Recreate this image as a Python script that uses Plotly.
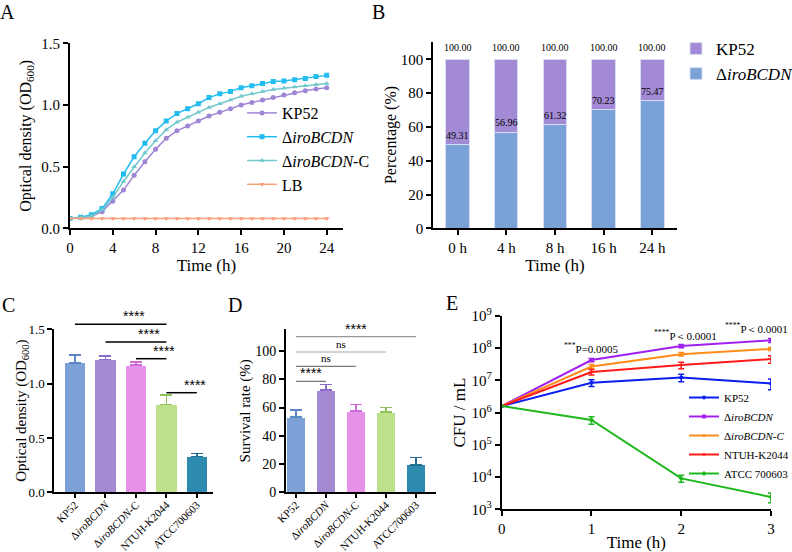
import math
import plotly.graph_objects as go

W, H = 792, 552
FONT = "Liberation Serif"
STAR_FONT = "Liberation Sans"

# ---------------- Data ----------------
# Panel A: growth curves (OD600)
a_time = list(range(25))
a_kp52 = [0.08, 0.085, 0.095, 0.135, 0.22, 0.31, 0.43, 0.54, 0.64, 0.73, 0.79, 0.83, 0.87,
          0.91, 0.94, 0.97, 1.00, 1.02, 1.04, 1.06, 1.08, 1.10, 1.115, 1.13, 1.14]
a_del = [0.08, 0.09, 0.11, 0.16, 0.28, 0.44, 0.58, 0.69, 0.79, 0.87, 0.93, 0.97, 1.01,
         1.06, 1.09, 1.11, 1.14, 1.155, 1.175, 1.19, 1.195, 1.205, 1.215, 1.23, 1.24]
a_comp = [0.08, 0.09, 0.10, 0.15, 0.25, 0.38, 0.50, 0.61, 0.71, 0.80, 0.86, 0.90, 0.94,
          0.98, 1.01, 1.04, 1.07, 1.09, 1.11, 1.125, 1.135, 1.145, 1.155, 1.165, 1.175]
a_lb = [0.08, 0.08, 0.08, 0.08, 0.08, 0.08, 0.08, 0.08, 0.08, 0.08, 0.08, 0.08, 0.08,
        0.08, 0.08, 0.08, 0.08, 0.08, 0.08, 0.08, 0.08, 0.08, 0.08, 0.08, 0.08]

# Panel B: competition percentages
b_times = ["0 h", "4 h", "8 h", "16 h", "24 h"]
b_mut = [49.31, 56.96, 61.32, 70.23, 75.47]
b_total = [100.00, 100.00, 100.00, 100.00, 100.00]

# Panel C / D strains
strains = ["KP52", "Δ<i>iroBCDN</i>", "Δ<i>iroBCDN</i>-C", "NTUH-K2044", "ATCC700603"]
c_od = [1.19, 1.22, 1.17, 0.81, 0.33]
c_err = [0.075, 0.035, 0.03, 0.085, 0.025]
c_pairs = [(0, 3), (1, 3), (2, 3), (3, 4)]
c_sig = ["****", "****", "****", "****"]

d_surv = [53.3, 72.3, 57.4, 56.8, 19.5]
d_err = [4.9, 4.0, 4.7, 3.3, 5.3]
d_pairs = [(0, 4), (0, 3), (0, 2), (0, 1)]
d_sig = ["****", "ns", "ns", "****"]

# Panel E: CFU/mL over time
e_time = [0, 1, 2, 3]
e_names = ["KP52", "Δ<i>iroBCDN</i>", "Δ<i>iroBCDN-C</i>", "NTUH-K2044", "ATCC 700603"]
e_kp52 = [1.6e6, 8.5e6, 1.23e7, 8.1e6]
e_del = [1.6e6, 4.3e7, 1.17e8, 1.76e8]
e_comp = [1.6e6, 2.7e7, 6.5e7, 9.5e7]
e_ntuh = [1.6e6, 1.83e7, 3.0e7, 4.6e7]
e_atcc = [1.6e6, 5.9e5, 9.1e3, 2.4e3]
e_kp52_sd = [0, 2.0e6, 3.2e6, 3.0e6]
e_del_sd = [0, 5e6, 1.3e7, 2.5e7]
e_comp_sd = [0, 4e6, 8e6, 1.0e7]
e_ntuh_sd = [0, 3.5e6, 7e6, 1.2e7]
e_atcc_sd = [0, 1.5e5, 2.2e3, 8e2]
e_pvals = ["<sup>***</sup>P=0.0005", "<sup>****</sup>P＜0.0001", "<sup>****</sup>P＜0.0001"]

# ---------------- Layout helpers ----------------
def px(x):
    return x / W


def py(y):
    return 1 - y / H


def dom_x(a, b):
    return [px(a), px(b)]


def dom_y(top, bottom):
    return [py(bottom), py(top)]


AX = dict(showline=True, linecolor="black", linewidth=2, ticks="outside", ticklen=5,
          tickwidth=2, tickcolor="black", showgrid=False, zeroline=False, automargin=False,
          tickfont=dict(family=FONT, size=15, color="black"))

fig = go.Figure()

# ---------------- Panel A ----------------
a_series = [
    ("KP52", a_kp52, "#9E86D4", "circle"),
    ("Δ<i>iroBCDN</i>", a_del, "#22BDF0", "square"),
    ("Δ<i>iroBCDN</i>-C", a_comp, "#72C8CC", "triangle-up"),
    ("LB", a_lb, "#F8A27C", "triangle-down"),
]
for name, ys, col, sym in a_series:
    fig.add_trace(go.Scatter(x=a_time, y=ys, name=name, mode="lines+markers",
                             line=dict(color=col, width=1.5),
                             marker=dict(color=col, size=5, symbol=sym),
                             xaxis="x", yaxis="y", legend="legend"))

# ---------------- Panel B ----------------
b_kp52 = [t - m for t, m in zip(b_total, b_mut)]
b_x = list(range(len(b_times)))
fig.add_trace(go.Bar(x=b_x, y=b_mut, name="Δ<i>iroBCDN</i>", marker=dict(color="#7BA2D6",
                     line=dict(color="#D6DDF2", width=1)), width=0.48,
                     xaxis="x2", yaxis="y2", legend="legend2", legendrank=2))
fig.add_trace(go.Bar(x=b_x, y=b_kp52, base=b_mut, name="KP52", marker=dict(color="#A38AD4",
                     line=dict(color="#D6DDF2", width=1)), width=0.48,
                     xaxis="x2", yaxis="y2", legend="legend2", legendrank=1))

# ---------------- Panel C ----------------
c_cols = ["#7BA1D6", "#A48AD3", "#E891E8", "#BDE08A", "#2E8BB0"]
c_ecols = ["#5C86C6", "#8A6DC9", "#CC6CD6", "#8FC25C", "#236F92"]
for i in range(5):
    fig.add_trace(go.Bar(x=[i], y=[c_od[i]], width=0.7, showlegend=False,
                         marker=dict(color=c_cols[i], line=dict(color="white", width=1)),
                         error_y=dict(type="data", array=[c_err[i]], arrayminus=[0],
                                      color=c_ecols[i], thickness=1.5, width=6),
                         xaxis="x3", yaxis="y3"))

# ---------------- Panel D ----------------
for i in range(5):
    fig.add_trace(go.Bar(x=[i], y=[d_surv[i]], width=0.64, showlegend=False,
                         marker=dict(color=c_cols[i], line=dict(color="white", width=1)),
                         error_y=dict(type="data", array=[d_err[i]], arrayminus=[0],
                                      color=c_ecols[i], thickness=1.5, width=6),
                         xaxis="x4", yaxis="y4"))

# ---------------- Panel E ----------------
e_series = [
    (e_names[0], e_kp52, e_kp52_sd, "#0A1EF0", "circle"),
    (e_names[1], e_del, e_del_sd, "#A020F0", "square"),
    (e_names[2], e_comp, e_comp_sd, "#FF8C1A", "triangle-up"),
    (e_names[3], e_ntuh, e_ntuh_sd, "#FF1A1A", "triangle-down"),
    (e_names[4], e_atcc, e_atcc_sd, "#1DB81D", "diamond"),
]
for name, ys, sd, col, sym in e_series:
    fig.add_trace(go.Scatter(x=e_time, y=ys, name=name, mode="lines+markers",
                             line=dict(color=col, width=2),
                             marker=dict(color=col, size=4, symbol=sym),
                             error_y=dict(type="data", array=sd, color=col, thickness=1.5, width=3),
                             xaxis="x5", yaxis="y5", legend="legend3"))

# ---------------- Axes ----------------
A_X = (70, 343); A_Y = (43.3, 228.3)
B_X = (433.3, 676.7); B_Y = (41.7, 228.3)
C_X = (54.3, 213); C_Y = (329.3, 492.3)
D_X = (286, 436); D_Y = (329.3, 492.3)
E_X = (501.7, 771); E_Y = (316, 509.3)

a_xr = [0, 24 * (A_X[1] - A_X[0]) / (326.7 - A_X[0])]
c_xr = [-0.68, 4.53]
d_xr = [-0.33, 4.67]
d_yr = [0, 115.4]

TITLE_FONT = dict(family=FONT, size=17, color="black")
ROT_FONT = dict(family=FONT, size=11, color="black")

fig.update_layout(
    xaxis=dict(AX, domain=dom_x(*A_X), range=a_xr, tickvals=[0, 4, 8, 12, 16, 20, 24],
               anchor="y", title=dict(text="Time (h)", font=TITLE_FONT, standoff=2)),
    yaxis=dict(AX, domain=dom_y(*A_Y), range=[0, 1.5], tickvals=[0, 0.5, 1.0, 1.5],
               tickformat=".1f", anchor="x",
               title=dict(text="Optical density (OD<sub>600</sub>)", font=dict(family=FONT, size=16, color="black"), standoff=6)),
    xaxis2=dict(AX, domain=dom_x(*B_X), range=[-0.5, 4.5], tickvals=b_x, ticktext=b_times,
                anchor="y2", title=dict(text="Time (h)", font=TITLE_FONT, standoff=2)),
    yaxis2=dict(AX, domain=dom_y(*B_Y), range=[0, 110.4], tickvals=[0, 20, 40, 60, 80, 100],
                anchor="x2", title=dict(text="Percentage (%)", font=dict(family=FONT, size=16, color="black"), standoff=0)),
    xaxis3=dict(AX, domain=dom_x(*C_X), range=c_xr, tickvals=list(range(5)), ticktext=strains,
                tickangle=-45, tickfont=ROT_FONT, anchor="y3", ticklen=4, ticklabelstandoff=-4),
    yaxis3=dict(AX, domain=dom_y(*C_Y), range=[0, 1.5], tickvals=[0, 0.5, 1.0, 1.5],
                tickformat=".1f", anchor="x3", tickfont=dict(family=FONT, size=13, color="black")),
    xaxis4=dict(AX, domain=dom_x(*D_X), range=d_xr, tickvals=list(range(5)), ticktext=strains,
                tickangle=-45, tickfont=ROT_FONT, anchor="y4", ticklen=4, ticklabelstandoff=-4),
    yaxis4=dict(AX, domain=dom_y(*D_Y), range=d_yr, tickvals=[0, 20, 40, 60, 80, 100],
                anchor="x4", tickfont=dict(family=FONT, size=14, color="black"),
                title=dict(text="Survival rate (%)", font=dict(family=FONT, size=15, color="black"), standoff=1)),
    xaxis5=dict(AX, domain=dom_x(*E_X), range=[0, 3], tickvals=e_time, anchor="y5",
                title=dict(text="Time (h)", font=TITLE_FONT, standoff=2)),
    yaxis5=dict(AX, domain=dom_y(*E_Y), type="log", range=[3, 9],
                tickvals=[1e3, 1e4, 1e5, 1e6, 1e7, 1e8, 1e9],
                ticktext=["10<sup>%d</sup>" % k for k in range(3, 10)], anchor="x5",
                title=dict(text="CFU / mL", font=TITLE_FONT, standoff=1)),
    barmode="stack",
    width=W, height=H, margin=dict(l=0, r=0, t=0, b=0, pad=0, autoexpand=False),
    paper_bgcolor="white", plot_bgcolor="white",
    font=dict(family=FONT, color="black"),
    legend=dict(x=px(242), y=py(96), xanchor="left", yanchor="top", traceorder="normal",
                font=dict(family=FONT, size=16, color="black"), bgcolor="rgba(0,0,0,0)",
                tracegroupgap=0),
    legend2=dict(x=px(676), y=py(31), xanchor="left", yanchor="top",
                 font=dict(family=FONT, size=17, color="black"), bgcolor="rgba(0,0,0,0)",
                 traceorder="normal"),
    legend3=dict(x=px(684), y=py(383), xanchor="left", yanchor="top", traceorder="normal",
                 font=dict(family=FONT, size=11, color="black"), bgcolor="rgba(0,0,0,0)"),
)

annotations = []
shapes = []

# Panel letters
for letter, (lx, ly) in zip("ABCDE", [(7, 12), (378, 12), (8, 305), (235, 305), (452, 303)]):
    annotations.append(dict(text=letter, x=px(lx), y=py(ly), xref="paper", yref="paper",
                            showarrow=False, xanchor="center", yanchor="middle",
                            font=dict(family=FONT, size=20, color="black")))

# Panel C y-axis title (placed close to the tick labels as in the reference)
annotations.append(dict(text="Optical density (OD<sub>600</sub>)", x=px(22),
                        y=(dom_y(*C_Y)[0] + dom_y(*C_Y)[1]) / 2, xref="paper", yref="paper",
                        textangle=-90, showarrow=False, xanchor="center", yanchor="middle",
                        font=dict(family=FONT, size=15, color="black")))

# Panel B value labels
for i in range(len(b_times)):
    annotations.append(dict(text="%.2f" % b_total[i], x=b_x[i], y=b_total[i], xref="x2", yref="y2",
                            showarrow=False, yanchor="bottom", yshift=4,
                            font=dict(family=FONT, size=10, color="black")))
    annotations.append(dict(text="%.2f" % b_mut[i], x=b_x[i], y=b_mut[i], xref="x2", yref="y2",
                            showarrow=False, yanchor="bottom", yshift=2,
                            font=dict(family=FONT, size=10, color="black")))


def data_to_px_x(v, dom, rng):
    return dom[0] + (v - rng[0]) / (rng[1] - rng[0]) * (dom[1] - dom[0])


# Panel C significance brackets (levels in pixel rows above the axis)
c_levels = [324.3, 342.0, 358.7, 392.7]
for (i, j), s, lev in zip(c_pairs, c_sig, c_levels):
    x0 = data_to_px_x(i, C_X, c_xr)
    x1 = data_to_px_x(j, C_X, c_xr)
    shapes.append(dict(type="line", xref="paper", yref="paper", x0=px(x0), x1=px(x1),
                       y0=py(lev), y1=py(lev), line=dict(color="black", width=1.5)))
    annotations.append(dict(text=s, x=px((x0 + x1) / 2), y=py(lev + 2),
                            xref="paper", yref="paper", showarrow=False, yanchor="bottom",
                            font=dict(family=STAR_FONT, size=14, color="black")))

# Panel D significance brackets
d_levels = [336.7, 352.0, 366.3, 381.3]
d_lcols = ["#808080", "#A8A8A8", "#555555", "#555555"]
for (i, j), s, lev, lc in zip(d_pairs, d_sig, d_levels, d_lcols):
    x0 = data_to_px_x(i, D_X, d_xr)
    x1 = data_to_px_x(j, D_X, d_xr)
    shapes.append(dict(type="line", xref="paper", yref="paper", x0=px(x0), x1=px(x1),
                       y0=py(lev), y1=py(lev), line=dict(color=lc, width=1)))
    is_star = s.startswith("*")
    annotations.append(dict(text=s, x=px((x0 + x1) / 2), y=py(lev + (2 if is_star else 0)),
                            xref="paper", yref="paper", showarrow=False, yanchor="bottom",
                            font=dict(family=STAR_FONT if is_star else FONT,
                                      size=14 if is_star else 11, color="black")))

# Panel E p-value labels
e_pshift = [0, 4, 19]
e_panchor = ["center", "center", "right"]
for k, t in enumerate(e_time[1:]):
    top = e_del[k + 1] + e_del_sd[k + 1]
    annotations.append(dict(text=e_pvals[k], x=t, y=math.log10(top), xref="x5", yref="y5",
                            showarrow=False, yanchor="bottom", yshift=1, xshift=e_pshift[k],
                            xanchor=e_panchor[k],
                            font=dict(family=FONT, size=11, color="black")))

fig.update_layout(annotations=annotations, shapes=shapes)

fig.write_html("out.html")
